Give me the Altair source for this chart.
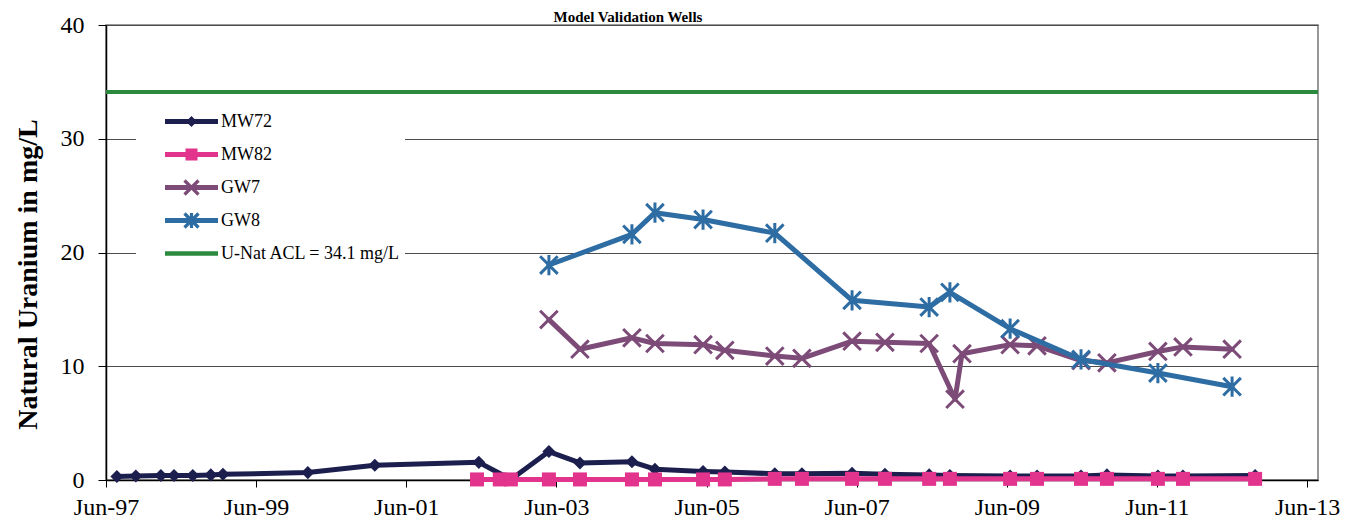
import altair as alt
import pandas as pd

FONT = "Liberation Serif"
TITLE = "Model Validation Wells"
Y_TITLE = "Natural Uranium in mg/L"

series_names = ["MW72", "MW82", "GW7", "GW8"]
series_colors = ["#1c1f4e", "#e2338d", "#7d4b77", "#2e6da4"]
acl_label = "U-Nat ACL = 34.1 mg/L"
acl_value = 34.1
acl_color = "#2b8a3e"

mw72_dates = ["1997-07-24", "1997-10-24", "1998-02-23", "1998-04-28", "1998-07-28",
              "1998-10-24", "1998-12-22", "2000-02-08", "2000-12-30", "2002-05-20",
              "2002-10-23", "2003-04-26", "2003-09-24", "2004-06-03", "2004-09-23",
              "2005-05-15", "2005-08-29", "2006-04-29", "2006-09-08", "2007-05-10",
              "2007-10-17", "2008-05-19", "2008-08-28", "2009-06-17", "2009-10-26",
              "2010-05-28", "2010-10-01", "2011-06-06", "2011-10-06", "2012-09-21"]
mw72_values = [0.3, 0.35, 0.4, 0.4, 0.4, 0.45, 0.5, 0.65, 1.3, 1.55,
               0.05, 2.5, 1.5, 1.6, 0.95, 0.75, 0.7, 0.55, 0.55, 0.6,
               0.5, 0.45, 0.4, 0.35, 0.35, 0.35, 0.45, 0.35, 0.35, 0.4]

mw82_dates = ["2002-05-11", "2002-08-30", "2002-10-23", "2003-04-26", "2003-09-24",
              "2004-06-03", "2004-09-23", "2005-05-15", "2005-08-29", "2006-04-29",
              "2006-09-08", "2007-05-10", "2007-10-17", "2008-05-19", "2008-08-28",
              "2009-06-17", "2009-10-26", "2010-05-28", "2010-10-01", "2011-06-06",
              "2011-10-06", "2012-09-21"]
mw82_values = [0.05, 0.05, 0.05, 0.05, 0.05, 0.05, 0.05, 0.05, 0.05, 0.1,
               0.1, 0.1, 0.1, 0.1, 0.1, 0.1, 0.1, 0.1, 0.1, 0.1, 0.1, 0.1]

gw7_dates = ["2003-04-26", "2003-09-24", "2004-06-03", "2004-09-23", "2005-05-15",
             "2005-08-29", "2006-04-29", "2006-09-08", "2007-05-10", "2007-10-17",
             "2008-05-19", "2008-09-22", "2008-10-26", "2009-06-17", "2009-10-26",
             "2010-05-28", "2010-10-01", "2011-06-06", "2011-10-06", "2012-06-01"]
gw7_values = [14.1, 11.5, 12.5, 12.0, 11.9, 11.4, 10.9, 10.7, 12.2, 12.1,
              12.0, 7.1, 11.1, 11.9, 11.8, 10.5, 10.3, 11.3, 11.7, 11.5]

gw8_dates = ["2003-04-26", "2004-06-03", "2004-09-23", "2005-05-15", "2006-04-29",
             "2007-05-10", "2008-05-19", "2008-08-28", "2009-06-17", "2010-05-28",
             "2011-06-06", "2012-06-01"]
gw8_values = [18.9, 21.6, 23.5, 22.9, 21.7, 15.8, 15.2, 16.5, 13.3, 10.6, 9.4, 8.2]

tick_years = [1997, 1999, 2001, 2003, 2005, 2007, 2009, 2011, 2013]
x_start = (1997, 6, 1)
x_end = (2013, 7, 24)
y_ticks = [0, 10, 20, 30, 40]

series_dates = [mw72_dates, mw82_dates, gw7_dates, gw8_dates]
series_values = [mw72_values, mw82_values, gw7_values, gw8_values]

rows = []
for name, ds, vs in zip(series_names, series_dates, series_values):
    for d, v in zip(ds, vs):
        rows.append({"series": name, "date": d, "value": v})
df = pd.DataFrame(rows)
df["date"] = pd.to_datetime(df["date"])

# ---------- layout ----------
PLOT_W, PLOT_H = 1212, 455
PAD = {"left": 98, "top": 17, "right": 29, "bottom": 38}

# ---------- scales & axes ----------
xscale = alt.Scale(domain=[alt.DateTime(year=x_start[0], month=x_start[1], date=x_start[2]),
                           alt.DateTime(year=x_end[0], month=x_end[1], date=x_end[2])], nice=False)
yscale = alt.Scale(domain=[0, 40], nice=False)

xaxis = alt.Axis(values=[alt.DateTime(year=y, month=6, date=1) for y in tick_years],
                 format="%b-%y", formatType="time", labelFont=FONT, labelFontSize=24,
                 labelColor="black", labelPadding=8, tickSize=7, tickColor="black",
                 tickWidth=1, domainColor="black", domainWidth=1.5, grid=False, title=None,
                 labelAngle=0, labelOverlap=False, labelFlush=False)
yaxis = alt.Axis(values=y_ticks, labelFont=FONT, labelFontSize=24, labelColor="black",
                 labelPadding=14, tickSize=8, tickColor="black", tickWidth=1,
                 domainColor="black", domainWidth=1.5, grid=True, gridColor="#4d4d4d",
                 gridWidth=1, title=Y_TITLE, titleFont=FONT, titleFontSize=28,
                 titleFontWeight="bold", titleColor="black", titleAngle=270,
                 titleAlign="center", titleBaseline="alphabetic", titleX=-70, titleY=249)

X = alt.X("date:T", scale=xscale, axis=xaxis)
Y = alt.Y("value:Q", scale=yscale, axis=yaxis)

# ---------- marker shapes ----------
X_PATH = "M-1,-1L1,1M-1,1L1,-1"
STAR_PATH = "M-1,-1L1,1M-1,1L1,-1M0,-1.15L0,1.15"

# legend symbols: line segment with the marker in its middle (filled paths)
R = 26.5  # half length of legend line in px


def _p(x, y):
    return f"{x / R:.4f},{y / R:.4f}"


def _poly(pts):
    return "M" + "L".join(_p(x, y) for x, y in pts) + "Z"


def _bar(th=2.5):
    return _poly([(-R, -th), (R, -th), (R, th), (-R, th)])


def _xshape(a=7.0, h=1.15):
    return (_poly([(-a + h, -a - h), (a + h, a - h), (a - h, a + h), (-a - h, -a + h)]) +
            _poly([(-a - h, a - h), (a - h, -a - h), (a + h, -a + h), (-a + h, a + h)]))


legend_paths = [
    _bar() + _poly([(0, -5.5), (5.5, 0), (0, 5.5), (-5.5, 0)]),
    _bar() + _poly([(-6, -6), (6, -6), (6, 6), (-6, 6)]),
    _bar() + _xshape(),
    _bar() + _xshape() + _poly([(-1.6, -7.5), (1.6, -7.5), (1.6, 7.5), (-1.6, 7.5)]),
    _bar(2.2),
]
legend_names = series_names + [acl_label]
legend_colors = series_colors + [acl_color]

leg = alt.Legend(title=None, orient="none", legendX=30, legendY=76, padding=4,
                 fillColor="white", labelFont=FONT, labelFontSize=18, labelColor="black",
                 symbolSize=int((2 * R) ** 2), symbolOffset=25, labelOffset=3,
                 clipHeight=33, rowPadding=0, symbolStrokeWidth=0, symbolOpacity=1,
                 labelLimit=400)

# ---------- layers ----------
layers = []
acl_df = pd.DataFrame({"value": [acl_value]})
layers.append(alt.Chart(acl_df).mark_rule(color=acl_color, strokeWidth=4).encode(y=Y))

marker_specs = [
    dict(shape="diamond", filled=True, size=170, strokeWidth=0),
    dict(shape="square", filled=True, size=196, strokeWidth=0),
    dict(shape=X_PATH, filled=False, size=310, strokeWidth=3),
    dict(shape=STAR_PATH, filled=False, size=310, strokeWidth=3),
]

for name, col, ms in zip(series_names, series_colors, marker_specs):
    base = alt.Chart(df).transform_filter(alt.datum.series == name)
    layers.append(base.mark_line(color=col, strokeWidth=5, strokeJoin="round",
                                 strokeCap="round").encode(x=X, y=Y))
    layers.append(base.mark_point(color=col, opacity=1, **ms).encode(x=X, y=Y))

legend_layer = alt.Chart(df).transform_filter("false").mark_point(
    filled=True, opacity=1).encode(
    x=X, y=Y,
    color=alt.Color("series:N", scale=alt.Scale(domain=legend_names, range=legend_colors),
                    legend=leg),
    shape=alt.Shape("series:N", scale=alt.Scale(domain=legend_names, range=legend_paths),
                    legend=leg),
)
layers.append(legend_layer)

# chart title, placed just above the plot area
title_df = pd.DataFrame({"title": [TITLE]})
title_layer = alt.Chart(title_df).mark_text(
    font=FONT, fontSize=15, fontWeight="bold", color="black", align="center",
    baseline="alphabetic").encode(
    text="title:N", x=alt.value(522), y=alt.value(-3))
layers.append(title_layer)

chart = alt.layer(*layers).properties(
    width=PLOT_W, height=PLOT_H,
    autosize=alt.AutoSizeParams(type="none"),
    padding=PAD,
).configure_view(stroke="#777777", strokeWidth=1.5)

chart.save("out.html", embed_options={"renderer": "svg", "actions": False})
